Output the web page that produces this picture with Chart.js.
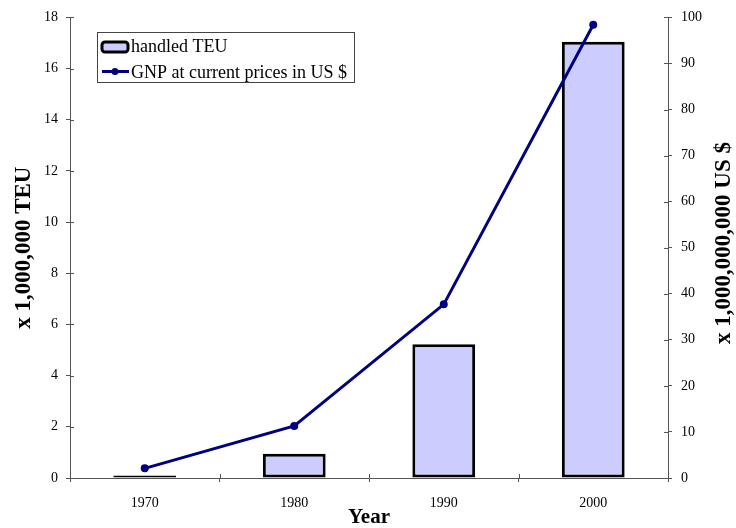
<!DOCTYPE html>
<html>
<head>
<meta charset="utf-8">
<script src="https://cdn.jsdelivr.net/npm/chart.js@4.4.1/dist/chart.umd.min.js"></script>
<style>
  html, body { margin: 0; padding: 0; background: #fff; }
  #wrap { width: 736px; height: 528px; }
</style>
</head>
<body>
<div id="wrap"><canvas id="c" width="736" height="528"></canvas></div>
<script>
// Container throughput and national product, by decade
const years = ['1970', '1980', '1990', '2000'];
const teuMillions = [0.1, 0.95, 5.23, 17.05];       // x 1,000,000 TEU
const gnpBillionsUSD = [2.1, 11.3, 37.7, 98.4];      // x 1,000,000,000 US $
const leftTicks = [0, 2, 4, 6, 8, 10, 12, 14, 16, 18];
const rightTicks = [0, 10, 20, 30, 40, 50, 60, 70, 80, 90, 100];

const SERIF = '"Liberation Serif", "Times New Roman", serif';
const AXIS = '#555';
const BAR_FILL = '#ccccff';
const NAVY = '#000080';

// Legend box drawn inside the plot area, plus inward tick marks and the
// right-hand axis title that reads bottom-to-top.
const decorations = {
  id: 'decorations',
  afterDraw(chart) {
    const ctx = chart.ctx;
    const area = chart.chartArea;
    const yL = chart.scales.y, yR = chart.scales.y2;
    ctx.save();

    // inward tick marks
    ctx.strokeStyle = AXIS;
    ctx.lineWidth = 1;
    ctx.beginPath();
    leftTicks.forEach(v => { const p = Math.round(yL.getPixelForValue(v)) + 0.5; ctx.moveTo(area.left, p); ctx.lineTo(area.left + 4, p); });
    rightTicks.forEach(v => { const p = Math.round(yR.getPixelForValue(v)) + 0.5; ctx.moveTo(area.right, p); ctx.lineTo(area.right - 4, p); });
    const step = (area.right - area.left) / years.length;
    for (let i = 1; i < years.length; i++) {
      const p = Math.round(area.left + step * i) + 0.5;
      ctx.moveTo(p, area.bottom); ctx.lineTo(p, area.bottom - 4);
    }
    ctx.stroke();

    // right axis title
    ctx.fillStyle = '#000';
    ctx.font = 'bold 23px ' + SERIF;
    ctx.textAlign = 'center';
    ctx.textBaseline = 'middle';
    ctx.translate(724, 243);
    ctx.rotate(-Math.PI / 2);
    ctx.fillText('x 1,000,000,000 US $', 0, 0);
    ctx.setTransform(1, 0, 0, 1, 0, 0);

    // legend
    const ds = chart.data.datasets;
    ctx.fillStyle = '#fff';
    ctx.fillRect(97, 32, 257, 50);
    ctx.strokeStyle = '#444';
    ctx.lineWidth = 1;
    ctx.strokeRect(97.5, 32.5, 257, 50);

    // bar swatch
    ctx.fillStyle = ds[1].backgroundColor;
    ctx.strokeStyle = ds[1].borderColor;
    ctx.lineWidth = 3;
    ctx.beginPath();
    if (ctx.roundRect) ctx.roundRect(102, 42, 26, 10, 3); else ctx.rect(102, 42, 26, 10);
    ctx.fill();
    ctx.stroke();

    // line swatch
    ctx.strokeStyle = ds[0].borderColor;
    ctx.lineWidth = 3;
    ctx.beginPath();
    ctx.moveTo(102, 71.5); ctx.lineTo(129, 71.5);
    ctx.stroke();
    ctx.fillStyle = ds[0].borderColor;
    ctx.beginPath();
    ctx.arc(115, 71.5, 3.5, 0, Math.PI * 2);
    ctx.fill();

    ctx.fillStyle = '#000';
    ctx.font = '18px ' + SERIF;
    ctx.textAlign = 'left';
    ctx.textBaseline = 'middle';
    ctx.fillText(ds[1].label, 131, 47);
    ctx.fillText(ds[0].label, 131, 73);
    ctx.restore();
  }
};

new Chart(document.getElementById('c'), {
  data: {
    labels: years,
    datasets: [
      {
        type: 'line',
        label: 'GNP at current prices in US $',
        data: gnpBillionsUSD,
        yAxisID: 'y2',
        borderColor: NAVY,
        backgroundColor: NAVY,
        borderWidth: 3,
        pointRadius: 4,
        pointBackgroundColor: NAVY,
        pointBorderWidth: 0,
        tension: 0,
        order: 0
      },
      {
        type: 'bar',
        label: 'handled TEU',
        data: teuMillions,
        yAxisID: 'y',
        backgroundColor: BAR_FILL,
        borderColor: '#000',
        borderWidth: 3,
        borderSkipped: false,
        categoryPercentage: 1,
        barPercentage: 0.42,
        order: 1
      }
    ]
  },
  options: {
    responsive: false,
    animation: false,
    devicePixelRatio: 1,
    layout: { padding: { top: 16, left: 0, right: 0, bottom: 0 } },
    plugins: { legend: { display: false }, tooltip: { enabled: false } },
    scales: {
      x: {
        offset: true,
        grid: { offset: true, drawOnChartArea: false, drawTicks: true, tickLength: 4, color: AXIS },
        border: { color: AXIS, width: 1 },
        ticks: { color: '#000', font: { family: SERIF, size: 14 }, padding: 13 },
        title: { display: true, text: 'Year', color: '#000', font: { family: SERIF, size: 21, weight: 'bold', lineHeight: 1 }, padding: { top: 0, bottom: 0 } },
        afterFit(s) { s.height = 50; }
      },
      y: {
        position: 'left',
        min: 0, max: 18,
        afterBuildTicks(s) { s.ticks = leftTicks.map(v => ({ value: v })); },
        grid: { drawOnChartArea: false, drawTicks: true, tickLength: 4, color: AXIS },
        border: { color: AXIS, width: 1 },
        ticks: { color: '#000', font: { family: SERIF, size: 14 }, padding: 8 },
        title: { display: true, text: 'x 1,000,000 TEU', color: '#000', font: { family: SERIF, size: 23, weight: 'bold' }, padding: { top: 10, bottom: 0 } },
        afterFit(s) { s.width = 70; }
      },
      y2: {
        position: 'right',
        min: 0, max: 100,
        afterBuildTicks(s) { s.ticks = rightTicks.map(v => ({ value: v })); },
        grid: { drawOnChartArea: false, drawTicks: true, tickLength: 4, color: AXIS },
        border: { color: AXIS, width: 1 },
        ticks: { color: '#000', font: { family: SERIF, size: 14 }, padding: 9 },
        afterFit(s) { s.width = 68; }
      }
    }
  },
  plugins: [decorations]
});
</script>
</body>
</html>
